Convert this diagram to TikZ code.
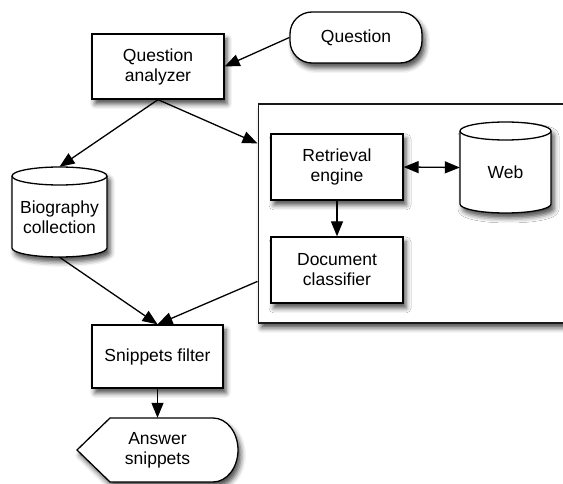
\documentclass[tikz,border=0pt]{standalone}
\usepackage{fontspec}
\setmainfont{Liberation Sans}
\usetikzlibrary{arrows.meta,calc,shadows.blur}
\begin{document}
\begin{tikzpicture}[x=1pt,y=1pt,
  every node/.style={font=\fontsize{17.5}{20}\selectfont, align=center, inner sep=0pt},
  shad/.style={blur shadow={shadow xshift=3pt, shadow yshift=-5pt, shadow blur radius=5pt, shadow opacity=70}},
  shapeline/.style={draw, line width=1.3pt, fill=white, shad},
  box/.style={shapeline, minimum width=132pt, minimum height=65pt},
  arr/.style={line width=1.3pt, -{Triangle[length=15pt,width=12pt,fill=black]}},
  darr/.style={line width=1.3pt, {Triangle[length=15pt,width=12pt,fill=black]}-{Triangle[length=15pt,width=12pt,fill=black]}},
]
\useasboundingbox (0,0) rectangle (563,483);

% outer container
\node[draw=black!90, line width=1.8pt, fill=white, shad, minimum width=360pt, minimum height=219pt, anchor=north west] (outer) at (257.5,380) {};
\coordinate (outin) at ($(outer.north west)!0.183!(outer.south west)$);
\coordinate (outout) at ($(outer.north west)!0.808!(outer.south west)$);

% boxes
\node[box] (qa) at (158,416.5) {Question\\analyzer};
\node[box, rounded corners=22pt, minimum height=51pt] (q) at (356,445.5) {Question};
\node[box, minimum height=66pt] (re) at (337,316) {Retrieval\\engine};
\node[box, minimum height=66pt] (dc) at (337,213) {Document\\classifier};
\node[box, minimum width=131pt, minimum height=63pt] (sf) at (157.5,126.5) {Snippets filter};

% Biography cylinder
\path[shapeline] (12,307) -- (12,235) arc[start angle=180,end angle=360,x radius=47.5,y radius=9] -- (107,307) arc[start angle=0,end angle=180,x radius=47.5,y radius=9] -- cycle;
\draw[line width=1.3pt] (12,307) arc[start angle=180,end angle=360,x radius=47.5,y radius=9];
\node[minimum width=95pt, minimum height=90pt] (bio) at (59.5,271) {};
\node (biotext) at (59.5,266) {Biography\\collection};

% Web cylinder
\path[shapeline] (460,352) -- (460,279) arc[start angle=180,end angle=360,x radius=45.5,y radius=9] -- (551,352) arc[start angle=0,end angle=180,x radius=45.5,y radius=9] -- cycle;
\draw[line width=1.3pt] (460,352) arc[start angle=180,end angle=360,x radius=45.5,y radius=9];
\node[minimum width=91pt, minimum height=91pt] (web) at (505.5,315.5) {};
\node (webtext) at (505.5,311) {Web};

% Answer display shape
\path[shapeline] (77,33) -- (110,65) -- (213,65) arc[start angle=90,end angle=-90,x radius=25,y radius=32] -- (110,1) -- cycle;
\node[minimum width=120pt, minimum height=64pt] (ans) at (157.5,33) {Answer\\snippets};

% connectors
\draw[arr] (q.west) -- (qa.east);
\draw[arr] (qa.south) -- (bio.north);
\draw[arr] (qa.south) -- (outin);
\draw[arr] (bio.south) -- (sf.north);
\draw[arr] (outout) -- (sf.north);
\draw[arr] (re.south) -- (dc.north);
\draw[darr] (re.east) -- (web.west);
\draw[arr] (sf.south) -- (ans.north);
\end{tikzpicture}
\end{document}
